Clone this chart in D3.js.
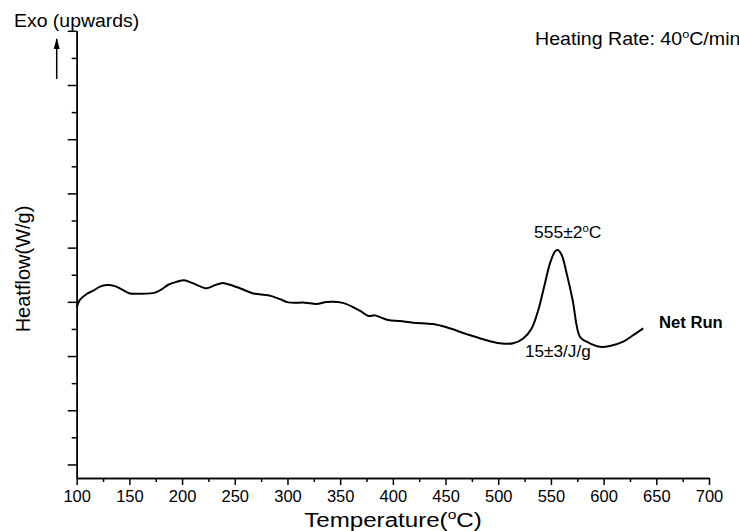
<!DOCTYPE html>
<html>
<head>
<meta charset="utf-8">
<script src="https://cdn.jsdelivr.net/npm/d3@7"></script>
<style>
  body { margin: 0; background: #fff; }
  text { font-family: "Liberation Sans", Arial, sans-serif; fill: #000; }
</style>
</head>
<body>
<div id="chart"></div>
<script>
// valores (temperatura em °C, fluxo de calor em unidades arbitrárias)
const temperature = [100, 103, 109.5, 115.7, 122.1, 128.5, 136.3, 142.7, 150.6, 160.1,
  174.3, 180.6, 186.9, 194.9, 201.8, 210.6, 223.3, 229.6, 237.6, 243.8,
  254.9, 267.6, 281.8, 292.9, 300.8, 316.6, 327.7, 337.2, 351.4, 362.4,
  370.4, 376.7, 383, 389.4, 395.6, 406.7, 419.4, 438.3, 451, 470,
  485.8, 501.6, 514.2, 523.7, 531.7, 538, 544.3, 549.1, 553.8, 556.4,
  560.2, 564.9, 570.6, 577.5, 583.9, 596.5, 606, 618.6, 628.1, 637.6];
const heatflow = [5.80, 6.07, 6.29, 6.41, 6.56, 6.62, 6.58, 6.46, 6.31, 6.30,
  6.34, 6.46, 6.63, 6.74, 6.80, 6.68, 6.50, 6.59, 6.69, 6.65,
  6.50, 6.31, 6.24, 6.10, 5.98, 5.97, 5.92, 5.99, 5.97, 5.80,
  5.63, 5.48, 5.50, 5.41, 5.33, 5.29, 5.23, 5.18, 5.06, 4.81,
  4.62, 4.47, 4.47, 4.65, 5.02, 5.70, 6.68, 7.42, 7.85, 7.91,
  7.73, 7.05, 6.07, 4.71, 4.53, 4.34, 4.37, 4.53, 4.77, 5.02];
const xMajor = d3.range(100, 701, 50);
const xMinor = d3.range(125, 700, 50);
const yMajor = d3.range(0, 17, 2);
const yMinor = d3.range(1, 16, 2);

const width = 739, height = 531;

const svg = d3.select("#chart").append("svg")
  .attr("width", width)
  .attr("height", height);

const x = d3.scaleLinear().domain([100, 700]).range([76.7, 709]);
const y = d3.scaleLinear().domain([-0.5, 16]).range([478, 30.8]);

// eixo X
const gx = svg.append("g").attr("transform", `translate(0,${y(-0.5)})`);
gx.append("g")
  .call(d3.axisBottom(x).tickValues(xMinor).tickSize(4).tickSizeOuter(0).tickFormat(""));
gx.append("g")
  .call(d3.axisBottom(x).tickValues(xMajor).tickSize(7).tickSizeOuter(0).tickPadding(5).tickFormat(d3.format("d")))
  .attr("font-size", 16.5)
  .attr("font-family", "Liberation Sans, Arial, sans-serif");

// eixo Y (sem rótulos)
const gy = svg.append("g").attr("transform", `translate(${x(100)},0)`);
gy.append("g")
  .call(d3.axisLeft(y).tickValues(yMinor).tickSize(5).tickSizeOuter(0).tickFormat(""));
gy.append("g")
  .call(d3.axisLeft(y).tickValues(yMajor).tickSize(9).tickSizeOuter(0).tickFormat(""));

svg.selectAll(".domain, .tick line")
  .attr("stroke", "#000")
  .attr("stroke-width", 1.5);

// curva
const points = temperature.map((t, i) => [t, heatflow[i]]);
const line = d3.line()
  .x(d => x(d[0]))
  .y(d => y(d[1]))
  .curve(d3.curveCatmullRom.alpha(0.5));

svg.append("path")
  .datum(points)
  .attr("fill", "none")
  .attr("stroke", "#000")
  .attr("stroke-width", 2)
  .attr("stroke-linejoin", "round")
  .attr("d", line);

// texto esticado na horizontal (o original está um pouco alargado)
function label(px, py, size, sx) {
  return svg.append("text")
    .attr("transform", `translate(${px},${py}) scale(${sx},1)`)
    .style("font-size", size + "px");
}

// texto com "o" sobrescrito
function degText(sel, before, after) {
  sel.append("tspan").text(before);
  sel.append("tspan").attr("font-size", "0.65em").attr("dy", "-0.6em").text("o");
  sel.append("tspan").attr("dy", "0.39em").text(after);
}

// títulos dos eixos
const xt = label(393, 527, 21, 1.15).attr("text-anchor", "middle");
degText(xt, "Temperature(", "C)");

svg.append("text")
  .attr("transform", "translate(30,269) rotate(-90)")
  .attr("text-anchor", "middle")
  .style("font-size", "20px")
  .text("Heatflow(W/g)");

// anotações
label(14, 27, 18, 1.08).text("Exo (upwards)");

svg.append("defs").append("marker")
  .attr("id", "head")
  .attr("viewBox", "0 0 11 6")
  .attr("refX", 10).attr("refY", 3)
  .attr("markerWidth", 11).attr("markerHeight", 6)
  .attr("markerUnits", "userSpaceOnUse")
  .attr("orient", "auto")
  .append("path")
  .attr("d", "M0,0 L11,3 L0,6 Z")
  .attr("fill", "#000");

svg.append("line")
  .attr("x1", 56.7).attr("x2", 56.7)
  .attr("y1", 79).attr("y2", 39)
  .attr("stroke", "#000")
  .attr("stroke-width", 1.5)
  .attr("marker-end", "url(#head)");

const hr = label(535, 45, 18, 1.09);
degText(hr, "Heating Rate: 40", "C/min");

const pk = label(534, 238, 16.5, 1.06);
degText(pk, "555\u00B12", "C");

label(525, 357, 16.5, 1.04).text("15\u00B13/J/g");

label(659, 328, 16, 1.04)
  .style("font-weight", "bold")
  .text("Net Run");
</script>
</body>
</html>
